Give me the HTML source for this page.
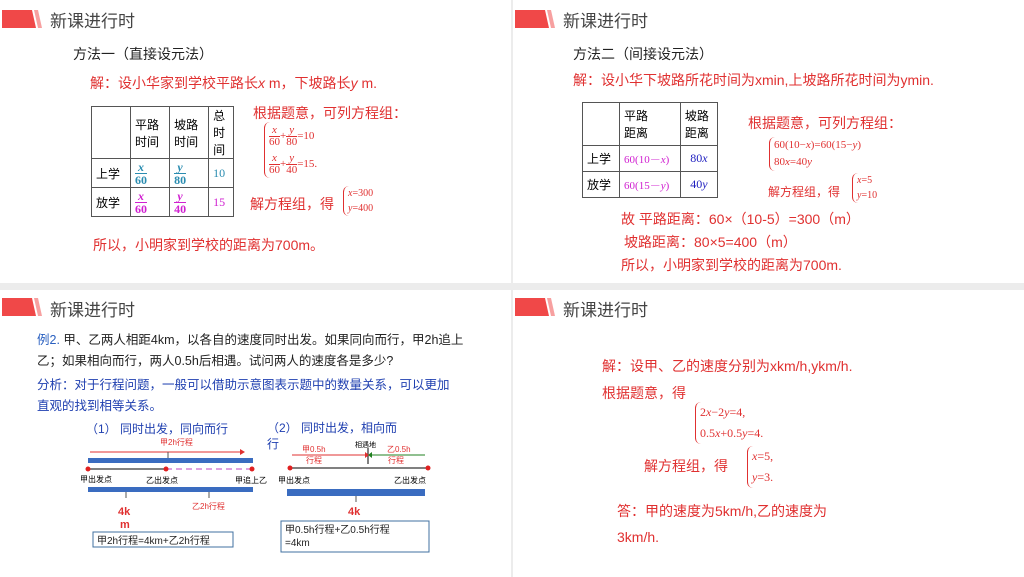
<!DOCTYPE html>
<html><head><meta charset="utf-8"><style>
body{margin:0;width:1024px;height:577px;background:#ececec;position:relative;overflow:hidden;font-family:"Liberation Sans","Noto Sans CJK SC",sans-serif}
.p{position:absolute;background:#fff;overflow:hidden}
.a{position:absolute;white-space:nowrap}
.hd{position:absolute;left:2px;top:10px;width:40px;height:18px}
.tt{position:absolute;left:50px;top:7px;font-size:17px;color:#444}
.r{color:#e03030}
.s{font-family:"Liberation Serif","Noto Serif CJK SC",serif}
table{border-collapse:collapse;position:absolute}
td{border:1px solid #555;font-size:12px;padding:0 4px}
.fr{display:inline-block;text-align:center;vertical-align:middle;line-height:12px;font-family:"Liberation Serif",serif;font-weight:bold}
.fr i{display:block;border-bottom:1px solid currentColor}
.fn{display:inline-block;text-align:center;vertical-align:middle;line-height:11px;font-size:11px}
.fn i{display:block;border-bottom:1px solid currentColor}
.br{border-left:1.5px solid #e03030;border-radius:6px 0 0 6px;padding-left:4px}
</style></head><body>
<!-- panel 1 -->
<div class="p" style="left:0;top:0;width:511px;height:283px">
<svg class="hd"><polygon points="0,0 30,0 34,18 0,18" fill="#f04848"/><polygon points="32,0 36,0 40,18 36,18" fill="#f7a0a0"/></svg>
<div class="tt">新课进行时</div>
<div class="a" style="left:73px;top:44px;font-size:14px;color:#222">方法一（直接设元法）</div>
<div class="a r" style="left:90px;top:73px;font-size:14px">解：设小华家到学校平路长<i>x</i> m，下坡路长<i>y</i> m.</div>
<table style="left:91px;top:106px;width:143px;height:111px">
<tr style="height:52px"><td></td><td>平路<br>时间</td><td>坡路<br>时间</td><td>总<br>时<br>间</td></tr>
<tr><td>上学</td><td style="color:#2a8cb0"><span class="fr"><i>x</i>60</span></td><td style="color:#2a8cb0"><span class="fr"><i>y</i>80</span></td><td class="s" style="color:#2a8cb0">10</td></tr>
<tr><td>放学</td><td style="color:#d020d0"><span class="fr"><i>x</i>60</span></td><td style="color:#d020d0"><span class="fr"><i>y</i>40</span></td><td class="s" style="color:#d020d0">15</td></tr>
</table>
<div class="a r" style="left:253px;top:103px;font-size:14px">根据题意，可列方程组：</div>
<div class="a r s br" style="left:264px;top:122px;font-size:11px;line-height:28px"><div><span class="fn"><i>x</i>60</span>+<span class="fn"><i>y</i>80</span>=10</div><div><span class="fn"><i>x</i>60</span>+<span class="fn"><i>y</i>40</span>=15.</div></div>
<div class="a r" style="left:250px;top:194px;font-size:14px">解方程组，得</div>
<div class="a r s br" style="left:343px;top:186px;font-size:10px;line-height:15px"><i>x</i>=300<br><i>y</i>=400</div>
<div class="a r" style="left:93px;top:235px;font-size:14px">所以，小明家到学校的距离为700m。</div>
</div>
<!-- panel 2 -->
<div class="p" style="left:513px;top:0;width:511px;height:283px">
<svg class="hd"><polygon points="0,0 30,0 34,18 0,18" fill="#f04848"/><polygon points="32,0 36,0 40,18 36,18" fill="#f7a0a0"/></svg>
<div class="tt">新课进行时</div>
<div class="a" style="left:60px;top:44px;font-size:14px;color:#222">方法二（间接设元法）</div>
<div class="a r" style="left:60px;top:70px;font-size:14px">解：设小华下坡路所花时间为xmin,上坡路所花时间为ymin.</div>
<table style="left:69px;top:102px;width:136px;height:96px">
<tr style="height:43px"><td></td><td>平路<br>距离</td><td>坡路<br>距离</td></tr>
<tr><td>上学</td><td class="s" style="color:#d020d0;font-size:11px">60(10－<i>x</i>)</td><td class="s" style="color:#2020c0;text-align:center">80<i>x</i></td></tr>
<tr><td>放学</td><td class="s" style="color:#d020d0;font-size:11px">60(15－<i>y</i>)</td><td class="s" style="color:#2020c0;text-align:center">40<i>y</i></td></tr>
</table>
<div class="a r" style="left:235px;top:113px;font-size:14px">根据题意，可列方程组：</div>
<div class="a r s br" style="left:256px;top:137px;font-size:11px;line-height:17px">60(10−<i>x</i>)=60(15−<i>y</i>)<br>80<i>x</i>=40<i>y</i></div>
<div class="a r" style="left:255px;top:183px;font-size:12px">解方程组，得</div>
<div class="a r s br" style="left:339px;top:173px;font-size:10px;line-height:15px"><i>x</i>=5<br><i>y</i>=10</div>
<div class="a r" style="left:108px;top:209px;font-size:14px">故 平路距离：60×（10-5）=300（m）</div>
<div class="a r" style="left:111px;top:232px;font-size:14px">坡路距离：80×5=400（m）</div>
<div class="a r" style="left:108px;top:255px;font-size:14px">所以，小明家到学校的距离为700m.</div>
</div>
<!-- panel 3 -->
<div class="p" style="left:0;top:290px;width:511px;height:287px">
<svg class="hd" style="top:8px"><polygon points="0,0 30,0 34,18 0,18" fill="#f04848"/><polygon points="32,0 36,0 40,18 36,18" fill="#f7a0a0"/></svg>
<div class="tt" style="top:6px">新课进行时</div>
<div class="a" style="left:37px;top:40px;font-size:12.5px;line-height:21px;color:#222;white-space:normal;width:440px"><span style="color:#2a60c0">例2.</span> 甲、乙两人相距4km，以各自的速度同时出发。如果同向而行，甲2h追上乙；如果相向而行，两人0.5h后相遇。试问两人的速度各是多少?</div>
<div class="a" style="left:37px;top:85px;font-size:12.5px;line-height:21px;color:#2040b0;white-space:normal;width:420px">分析：对于行程问题，一般可以借助示意图表示题中的数量关系，可以更加直观的找到相等关系。</div>
<div class="a" style="left:86px;top:130px;font-size:12px;color:#2040b0">（1） 同时出发，同向而行</div>
<div class="a" style="left:267px;top:130px;font-size:12px;color:#2040b0;line-height:16px">（2） 同时出发，相向而<br>行</div>
<svg style="position:absolute;left:80px;top:145px" width="360" height="140" font-size="8" font-family="Liberation Sans,Noto Sans CJK SC,sans-serif">
<text x="80" y="10" fill="#e03030">甲2h行程</text>
<line x1="10" y1="17" x2="160" y2="17" stroke="#e03030"/><polygon points="160,14 165,17 160,20" fill="#e03030"/>
<rect x="8" y="23" width="165" height="5" fill="#3a6cc0"/>
<line x1="88" y1="17" x2="88" y2="23" stroke="#555"/>
<line x1="8" y1="34" x2="86" y2="34" stroke="#000"/>
<line x1="86" y1="34" x2="172" y2="34" stroke="#c040c0" stroke-dasharray="6,4"/>
<circle cx="8" cy="34" r="2.5" fill="#e02020"/><circle cx="86" cy="34" r="2.5" fill="#e02020"/><circle cx="172" cy="34" r="2.5" fill="#e02020"/>
<text x="0" y="47">甲出发点</text><text x="66" y="48">乙出发点</text><text x="155" y="48">甲追上乙</text>
<rect x="8" y="52" width="77" height="5" fill="#3a6cc0"/><rect x="85" y="52" width="88" height="5" fill="#3a6cc0"/>
<line x1="46" y1="57" x2="46" y2="63" stroke="#555"/><line x1="129" y1="57" x2="129" y2="63" stroke="#555"/>
<text x="112" y="74" fill="#e03030">乙2h行程</text>
<text x="38" y="80" fill="#e03030" font-size="11" font-weight="bold">4k</text><text x="40" y="93" fill="#e03030" font-size="11" font-weight="bold">m</text>
<rect x="13" y="97" width="140" height="15" fill="none" stroke="#4070a0"/>
<text x="17" y="109" font-size="10" fill="#222">甲2h行程=4km+乙2h行程</text>
<text x="275" y="12" fill="#000" font-size="7">相遇地</text>
<line x1="288" y1="13" x2="288" y2="29" stroke="#000"/>
<text x="222" y="17" fill="#e03030">甲0.5h</text><text x="226" y="28" fill="#e03030">行程</text>
<text x="307" y="17" fill="#e03030">乙0.5h</text><text x="308" y="28" fill="#e03030">行程</text>
<line x1="212" y1="20" x2="285" y2="20" stroke="#e03030"/><polygon points="285,17 289,20 285,23" fill="#e03030"/>
<line x1="291" y1="20" x2="345" y2="20" stroke="#208020"/><polygon points="292,17 288,20 292,23" fill="#208020"/>
<line x1="210" y1="33" x2="348" y2="33" stroke="#000"/>
<circle cx="210" cy="33" r="2.5" fill="#e02020"/><circle cx="348" cy="33" r="2.5" fill="#e02020"/>
<text x="198" y="48">甲出发点</text><text x="314" y="48">乙出发点</text>
<rect x="207" y="54" width="138" height="7" fill="#3a6cc0"/>
<line x1="276" y1="61" x2="276" y2="67" stroke="#555"/>
<text x="268" y="80" fill="#e03030" font-size="11" font-weight="bold">4k</text><text x="270" y="93" fill="#e03030" font-size="11" font-weight="bold">m</text>
<rect x="201" y="86" width="148" height="31" fill="#fff" stroke="#4070a0"/>
<text x="205" y="98" font-size="10" fill="#222">甲0.5h行程+乙0.5h行程</text>
<text x="205" y="111" font-size="10" fill="#222">=4km</text>
</svg>
</div>
<!-- panel 4 -->
<div class="p" style="left:513px;top:290px;width:511px;height:287px">
<svg class="hd" style="top:8px"><polygon points="0,0 30,0 34,18 0,18" fill="#f04848"/><polygon points="32,0 36,0 40,18 36,18" fill="#f7a0a0"/></svg>
<div class="tt" style="top:6px">新课进行时</div>
<div class="a r" style="left:89px;top:66px;font-size:14px">解：设甲、乙的速度分别为xkm/h,ykm/h.</div>
<div class="a r" style="left:89px;top:93px;font-size:14px">根据题意，得</div>
<div class="a r s br" style="left:182px;top:112px;font-size:12px;line-height:21px">2<i>x</i>−2<i>y</i>=4,<br>0.5<i>x</i>+0.5<i>y</i>=4.</div>
<div class="a r" style="left:131px;top:166px;font-size:14px">解方程组，得</div>
<div class="a r s br" style="left:234px;top:156px;font-size:12px;line-height:21px"><i>x</i>=5,<br><i>y</i>=3.</div>
<div class="a r" style="left:104px;top:211px;font-size:14px">答：甲的速度为5km/h,乙的速度为</div>
<div class="a r" style="left:104px;top:239px;font-size:14px">3km/h.</div>
</div>
</body></html>
